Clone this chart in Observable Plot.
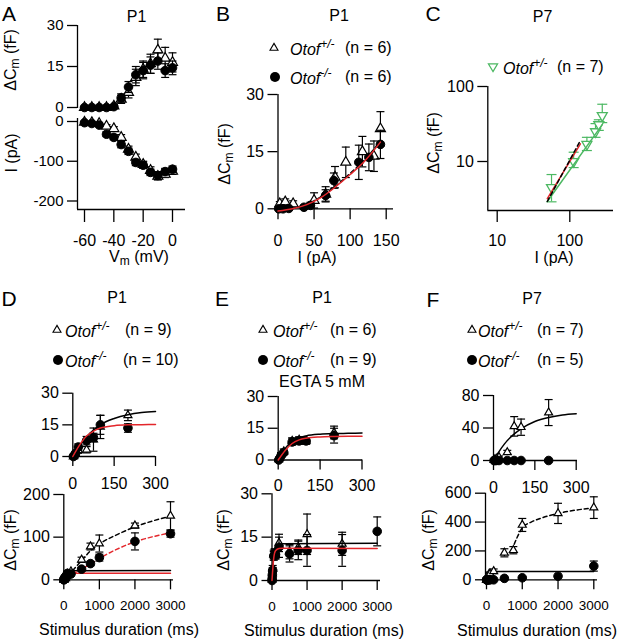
<!DOCTYPE html>
<html><head><meta charset="utf-8">
<script src="https://cdn.jsdelivr.net/npm/d3@7"></script>
<script src="https://cdn.jsdelivr.net/npm/@observablehq/plot@0.6"></script>
<style>
body{margin:0;background:#fff}
#fig{position:relative;width:620px;height:640px;overflow:hidden;font-family:"Liberation Sans",Arial,Helvetica,sans-serif;font-size:16px;color:#000;background:#fff}
.t{position:absolute;white-space:nowrap;line-height:1}
.sub{font-size:0.75em;vertical-align:-0.25em}
.sup{font-size:0.75em;vertical-align:0.55em}
.it{font-style:italic}
</style></head>
<body><div id="fig"></div>
<script>
// ---------------- DATA ----------------
// Panel A (P1): ΔCm and I vs Vm
const vmA = [-60,-55,-50,-45,-40,-35,-30,-25,-20,-15,-10,-5,0];
const aCmHet = [0,0,0,0,0.5,3,5.5,11,14,16,21,18,16.5];
const aCmHetErr = [0.3,0.3,0.3,0.3,0.5,1.5,2,3,3,3.5,4,4,3.5];
const aCmKo = [0,0,0,0,0.3,3.5,7.5,12,13.5,15.5,17,13.5,14.5];
const aCmKoErr = [0.2,0.2,0.2,0.2,0.4,1.5,2,3,3,3,3,2.5,2.5];
const aIHet = [-2,-3,-5,-12,-18,-40,-70,-90,-108,-123,-138,-133,-125];
const aIHetErr = [2,2,3,4,5,7,8,8,8,9,9,8,8];
const aIKo = [-3,-5,-9,-32,-40,-58,-75,-103,-110,-128,-136,-126,-120];
const aIKoErr = [2,2,3,6,6,8,8,8,8,8,10,8,8];

// Panel B (P1): ΔCm vs I
const bIHet = [2.5,10,21,50,66,79,94,117,133,142];
const bCHet = [1.3,1.8,1.3,2.2,3.8,8.3,12.2,15,13.8,21];
const bCHetErr = [0.6,0.8,0.8,2,2,2.8,4,4,4,4.5];
const bIKo = [1,7,15,36,45,66,77.5,112,126,142];
const bCKo = [0,0,0.1,0.4,0.9,3.5,7.4,12.2,13.5,16.9];
const bCKoErr = [0.3,0.3,0.3,0.5,0.8,1.5,2,4.5,3.5,3.7];
const bFitI = [0,20,40,60,80,100,120,142];
const bFitRed = [-0.6,0,1.1,3,5.8,9,12.5,17.5];
const bFitBlk = [-0.5,0.1,1.2,3.2,6.0,9.3,12.8,17.8];

// Panel C (P7): log-log ΔCm vs I
const cI = [56,113,172,226,251,280];
const cC = [4.5,10,17,25,31,41];
const cLo = [2.9,8.3,14,21,26,33];
const cHi = [6.7,13.3,21,32,36,58];
const cFitI = [49,140];
const cFitRed = [3.2,17.2];
const cFitBlkI = [49,136];
const cFitBlk = [2.93,18.1];
const cFitGrnI = [49,280];
const cFitGrn = [2.93,31];

// Panel D (P1)
const durT = [2,5,10,20,50,75,100,200];
const durB = [2,5,10,20,50,75,100,200,500,750,1000,2000,3000];
const dHet = [0,0.4,1.2,3,3.2,8,14,19.5,47,78,85,127,150];
const dHetErr = [0.3,0.4,0.8,1.5,1.5,5.5,5.5,2.5,6,8,20,6,33];
const dKo = [0,0.5,1.5,4.5,7.5,9,15,13.5,25,38,52,90,108];
const dKoErr = [0.3,0.4,0.8,1.5,2,2,4.5,2,4,5,8,20,8];
const fitTx = [0,25,50,75,100,150,200,250,300];
const dFitBlk = [0,5,9.3,12.5,15,18,19.8,20.8,21.3];
const dFitRed = [0,5.5,9.7,12,13.5,14.6,15,15.1,15.2];
const fitBx = [0,50,100,200,300,3000];
const dFitBlkB = [0,9.3,15,19.8,21.3,21.6];
const dFitRedB = [0,9.7,13.5,15,15.2,15.2];
const dDashX = [250,500,750,1000,1500,2000,2500,3000];
const dDashBlk = [22,45,68,84,106,124,138,149];
const dDashRed = [14,25,37,50,72,89,101,110];

// Panel E (P1, EGTA 5 mM)
const eHetDur = [2,5,10,20,50,75,100,200,500,750,1000,2000];
const eHet = [0.3,1,2.5,4,9,9.5,9,13,10,11.5,16,12.7];
const eHetErr = [0.3,0.6,1,1.2,1.5,1.5,1.5,3,2.5,2.5,7,4];
const eKo = [0,0.7,2,3.5,8.5,9,9,11.5,9.2,10.4,10.4,10.4,17];
const eKoErr = [0.3,0.5,1,1,1.5,1.5,1.5,3.5,2.8,3.2,5.5,5.5,5];
const eFitBlk = [0,5.5,8.8,10.5,11.4,12.2,12.5,12.6,12.7];
const eFitRed = [0,4.5,7.8,9.5,10.3,10.9,11.1,11.2,11.2];
const eFitBlkB = [0,8.8,11.4,12.5,12.7,12.9];
const eFitRedB = [0,7.8,10.3,11.1,11.2,11.1];

// Panel F (P7)
const fHet = [0.5,1,2,4,10,42,41,59,187,205,380,460,500];
const fHetErr = [0.5,0.5,1,1.5,2.5,12,10,16,28,25,45,70,75];
const fKoDur = [2,5,10,20,50,75,100,200,500,1000,2000,3000];
const fKo = [0,0,0,0,0,0,0,0,10,14,25,95];
const fKoErr = [0,0,0,0,0,0,0,0,3,3,5,35];
const fFitTx = [0,20,40,60,80,100,150,200,250,300];
const fFitBlk = [0,11,20.5,28,34,39,48,53,56,57.5];
const fFitBlkB = [0,39,53,57.5,58,58];
const fFitBx = [0,100,200,300,1000,3000];
const fDashX = [700,850,1000,1250,1500,2000,2500,3000];
const fDash = [200,290,360,400,425,460,483,497];

// ---------------- HELPERS ----------------
const RED = "#e3262b", GREEN = "#4cb862";
const FONT = '"Liberation Sans", Arial, Helvetica, sans-serif';
const fig = document.getElementById("fig");

function ext(v0,p0,v1,p1,pa,pb){const k=(p1-p0)/(v1-v0);return [v0+(pa-p0)/k, v0+(pb-p0)/k];}
function extLog(v0,p0,v1,p1,pa,pb){const [a,b]=ext(Math.log10(v0),p0,Math.log10(v1),p1,pa,pb);return [10**a,10**b];}

function layer({xpx, xdom, ypx, ydom, xType="linear", yType="linear", marks}) {
  const svg = Plot.plot({
    width: 620, height: 640,
    marginLeft: xpx[0], marginRight: 620 - xpx[1],
    marginTop: ypx[0], marginBottom: 640 - ypx[1],
    x: {type: xType, domain: xdom, axis: null},
    y: {type: yType, domain: ydom, axis: null},
    style: {background: "transparent", fontFamily: FONT, fontSize: "16px", color: "black",
            position: "absolute", left: "0px", top: "0px", overflow: "visible", maxWidth: "none"},
    marks
  });
  fig.appendChild(svg);
}

const capSym = {draw(c,s){const r=Math.sqrt(s/Math.PI);c.moveTo(-r,0);c.lineTo(r,0);}};
const triUp = {draw(c,s){const r=Math.sqrt(s/Math.PI);c.moveTo(0,-1.155*r);c.lineTo(r,0.577*r);c.lineTo(-r,0.577*r);c.closePath();}};
const triDown = {draw(c,s){const r=Math.sqrt(s/Math.PI);c.moveTo(0,1.155*r);c.lineTo(r,-0.577*r);c.lineTo(-r,-0.577*r);c.closePath();}};

function errMarks(xs, lo, hi, color="black", cap=4) {
  return [
    Plot.ruleX(xs, {x: xs, y1: lo, y2: hi, stroke: color, strokeWidth: 1.2}),
    Plot.dot(xs, {x: xs, y: lo, symbol: capSym, r: cap, stroke: color, fill: "none", strokeWidth: 1.2}),
    Plot.dot(xs, {x: xs, y: hi, symbol: capSym, r: cap, stroke: color, fill: "none", strokeWidth: 1.2})
  ];
}
function het(xs, ys, es, r=5, cap=4) {
  const lo = ys.map((v,i)=>v-es[i]), hi = ys.map((v,i)=>v+es[i]);
  return [...errMarks(xs, lo, hi, "black", cap),
    Plot.dot(xs, {x: xs, y: ys, symbol: triUp, r, fill: "white", stroke: "black", strokeWidth: 1.2})];
}
function ko(xs, ys, es, r=4.3, cap=4) {
  const lo = ys.map((v,i)=>v-es[i]), hi = ys.map((v,i)=>v+es[i]);
  return [...errMarks(xs, lo, hi, "black", cap),
    Plot.dot(xs, {x: xs, y: ys, symbol: "circle", r, fill: "black", stroke: "black", strokeWidth: 1})];
}
const line = (xs, ys, stroke, dash) => Plot.line(xs, {x: xs, y: ys, stroke, strokeWidth: 1.5, curve: "monotone-x", strokeDasharray: dash});
const yAxis = (ticks, fs = 16) => Plot.axisY({anchor: "left", ticks, tickSize: 10, tickPadding: 4, tickFormat: d => String(d), label: null, strokeWidth: 1.3, fontSize: fs});
const xAxis = (ticks, size, pad, fs = 16) => Plot.axisX({anchor: "bottom", ticks, tickSize: size, tickPadding: pad, tickFormat: d => String(d), label: null, strokeWidth: 1.3, fontSize: fs});
const yLine = (v) => Plot.ruleX([v], {strokeWidth: 1.3});
const xLine = (v) => Plot.ruleY([v], {strokeWidth: 1.3});

function T(html, x, y, o = {}) {
  const d = document.createElement("div");
  d.className = "t";
  d.innerHTML = html;
  d.style.left = x + "px"; d.style.top = y + "px";
  d.style.fontSize = (o.size || 16) + "px";
  const ax = o.anchor === "start" ? "0" : o.anchor === "end" ? "-100%" : "-50%";
  d.style.transform = `translate(${ax},-50%)` + (o.rotate ? ` rotate(${o.rotate}deg)` : "");
  if (o.color) d.style.color = o.color;
  fig.appendChild(d);
}
function sym(kind, color = "black") {
  let p;
  if (kind === "up") p = `<path d="M0,-4.6L4,2.3H-4Z" fill="white" stroke="${color}" stroke-width="1.1"/>`;
  else if (kind === "down") p = `<path d="M0,4.6L4.6,-3.2H-4.6Z" fill="white" stroke="${color}" stroke-width="1.2"/>`;
  else p = `<circle r="5" fill="black"/>`;
  return `<svg width="12" height="12" viewBox="-6 -6 12 12" style="display:block">${p}</svg>`;
}

// ---------------- PANEL A ----------------
{
  const xpx = [77,185], xdom = ext(-60,84,0,172,77,185);
  const ypx = [25,108], ydom = ext(0,107,30,25,108,25);
  layer({xpx, xdom, ypx, ydom, marks: [yLine(xdom[0]), yAxis([0,15,30], 15),
    ...het(vmA, aCmHet, aCmHetErr, 5), ...ko(vmA, aCmKo, aCmKoErr, 4.3)]});
  const ypx2 = [118,209], ydom2 = ext(0,121,-200,200.5,209,118);
  layer({xpx, xdom, ypx: ypx2, ydom: ydom2, marks: [yLine(xdom[0]), xLine(ydom2[0]), yAxis([-200,-100,0], 15),
    xAxis([-60,-40,-20,0], 13, 12.3),
    ...het(vmA, aIHet, aIHetErr, 5), ...ko(vmA, aIKo, aIKoErr, 4.3)]});
}
// ---------------- PANEL B ----------------
{
  const xpx = [277.5,393], xdom = ext(0,277.5,150,385.7,277.5,393);
  const ypx = [94,208.3], ydom = [0,30];
  layer({xpx, xdom, ypx, ydom, marks: [yLine(xdom[0]), xLine(0), yAxis([0,15,30]), xAxis([0,50,100,150], 11, 15),
    ...het(bIHet, bCHet, bCHetErr, 5), ...ko(bIKo, bCKo, bCKoErr, 4.3),
    line(bFitI, bFitBlk, "black", "4,3"), line(bFitI, bFitRed, RED)]});
}
// ---------------- PANEL C ----------------
{
  const xpx = [487.3,613], xdom = extLog(10,496.7,100,569.3,487.3,613);
  const ypx = [86,210], ydom = extLog(10,161,100,86,210,86);
  layer({xpx, xdom, ypx, ydom, xType: "log", yType: "log", marks: [
    yLine(xdom[0]), xLine(ydom[0]), yAxis([10,100]), xAxis([10,100], 12, 12),
    ...errMarks(cI, cLo, cHi, GREEN, 5),
    Plot.dot(cI, {x: cI, y: cC, symbol: triDown, r: 5, fill: "white", stroke: GREEN, strokeWidth: 1.3}),
    line(cFitGrnI, cFitGrn, GREEN), line(cFitI, cFitRed, RED), line(cFitBlkI, cFitBlk, "black", "4,3")]});
}
// ---------------- PANEL D ----------------
{
  const xpx = [72.3,155], xdom = [0,300];
  const ypx = [392.7,456], ydom = [0,30];
  layer({xpx, xdom, ypx, ydom, marks: [yLine(0), xLine(0), yAxis([0,15,30]), xAxis([0,150,300], 10, 11.6),
    ...het(durT, dHet.slice(0,8), dHetErr.slice(0,8), 4), ...ko(durT, dKo.slice(0,8), dKoErr.slice(0,8), 4.3),
    line(fitTx, dFitBlk, "black"), line(fitTx, dFitRed, RED)]});
  const xpx2 = [63.3,173], xdom2 = ext(0,63.3,3000,170,63.3,173);
  const ypx2 = [494,579.3], ydom2 = [0,200];
  layer({xpx: xpx2, xdom: xdom2, ypx: ypx2, ydom: ydom2, marks: [yLine(0), xLine(0), yAxis([0,100,200]), xAxis([0,1000,2000,3000], 10, 11, 13.5),
    line(fitBx, dFitBlkB, "black"), line(fitBx, dFitRedB, RED),
    line(dDashX, dDashBlk, "black", "4,3"), line(dDashX, dDashRed, RED, "4,3"),
    ...het(durB, dHet, dHetErr, 4), ...ko(durB, dKo, dKoErr, 4.3)]});
}
// ---------------- PANEL E ----------------
{
  const xpx = [277.7,362], xdom = ext(0,277.7,300,361.5,277.7,362);
  const ypx = [396,459.5], ydom = [0,30];
  layer({xpx, xdom, ypx, ydom, marks: [yLine(0), xLine(0), yAxis([0,15,30]), xAxis([0,150,300], 10, 10),
    ...het(durT, eHet.slice(0,8), eHetErr.slice(0,8), 4), ...ko(durT, eKo.slice(0,8), eKoErr.slice(0,8), 4.3),
    line(fitTx, eFitBlk, "black"), line(fitTx, eFitRed, RED)]});
  const xpx2 = [271.5,380], xdom2 = ext(0,271.5,3000,376.7,271.5,380);
  const ypx2 = [493.3,580], ydom2 = [0,30];
  layer({xpx: xpx2, xdom: xdom2, ypx: ypx2, ydom: ydom2, marks: [yLine(0), xLine(0), yAxis([0,15,30]), xAxis([0,1000,2000,3000], 10, 11, 13.5),
    ...het(eHetDur, eHet, eHetErr, 4), ...ko(durB, eKo, eKoErr, 4.3),
    line(fitBx, eFitBlkB, "black"), line(fitBx, eFitRedB, RED)]});
}
// ---------------- PANEL F ----------------
{
  const xpx = [493,577], xdom = ext(0,493,300,575.7,493,577);
  const ypx = [395,460], ydom = [0,80];
  layer({xpx, xdom, ypx, ydom, marks: [yLine(0), xLine(0), yAxis([0,40,80]), xAxis([0,150,300], 10, 11),
    line(fFitTx, fFitBlk, "black"),
    ...het(durT, fHet.slice(0,8), fHetErr.slice(0,8), 4), ...ko(fKoDur.slice(0,8), fKo.slice(0,8), fKoErr.slice(0,8), 4.3)]});
  const xpx2 = [485,597], xdom2 = ext(0,486,3000,593.3,485,597);
  const ypx2 = [492.7,579.3], ydom2 = [0,600];
  layer({xpx: xpx2, xdom: xdom2, ypx: ypx2, ydom: ydom2, marks: [yLine(xdom2[0]), xLine(0), yAxis([0,200,400,600]), xAxis([0,1000,2000,3000], 10, 11, 13.5),
    line(fFitBx, fFitBlkB, "black"), line(fDashX, fDash, "black", "4,3"),
    ...het(durB, fHet, fHetErr, 4), ...ko(fKoDur, fKo, fKoErr, 4.3)]});
}

// ---------------- TEXT ----------------
const dC = 'ΔC<span class="sub">m</span> (fF)';
const stim = 'Stimulus duration (ms)';
[["A",9,13],["B",223,13],["C",433,13],["D",9,298],["E",222,298],["F",433,299]].forEach(([s,x,y]) => T(s,x,y,{size:21}));
[["P1",136.5,17],["P1",339,16],["P7",542.5,17],["P1",117,297.5],["P1",322,298],["P7",532,299]].forEach(([s,x,y]) => T(s,x,y));
T(dC, 12, 60, {rotate:-90}); T("I (pA)", 12, 153, {rotate:-90}); T('V<span class="sub">m</span> (mV)', 139, 258);
T(dC, 226, 154, {rotate:-90}); T("I (pA)", 317, 258);
T(dC, 435, 143, {rotate:-90}); T("I (pA)", 554, 258);
T(dC, 12, 540, {rotate:-90}); T(stim, 119, 630);
T(dC, 225, 540, {rotate:-90}); T(stim, 324, 631);
T(dC, 430, 540, {rotate:-90}); T(stim, 537, 631);

const otof = (s) => `<span class="it">Otof</span><span class="sup it">${s}</span>`;
function legendRow(kind, color, sx, tx, nx, y, sup, n) {
  T(sym(kind, color), sx, y);
  T(otof(sup), tx, y, {anchor: "start"});
  T(`(n = ${n})`, nx, y, {anchor: "start"});
}
legendRow("up","black",274,290,345,48,"+/-",6);
legendRow("dot","black",275,290,345,77,"-/-",6);
legendRow("down",GREEN,493,503,557,67,"+/-",7);
legendRow("up","black",57,65,125,330,"+/-",9);
legendRow("dot","black",58,65,123,360,"-/-",10);
legendRow("up","black",263,273,330,330,"+/-",6);
legendRow("dot","black",263,273,330,360,"-/-",9);
T("EGTA 5 mM", 322, 382);
legendRow("up","black",472,478,537,330,"+/-",7);
legendRow("dot","black",472,478,537,360,"-/-",5);
</script></body></html>
